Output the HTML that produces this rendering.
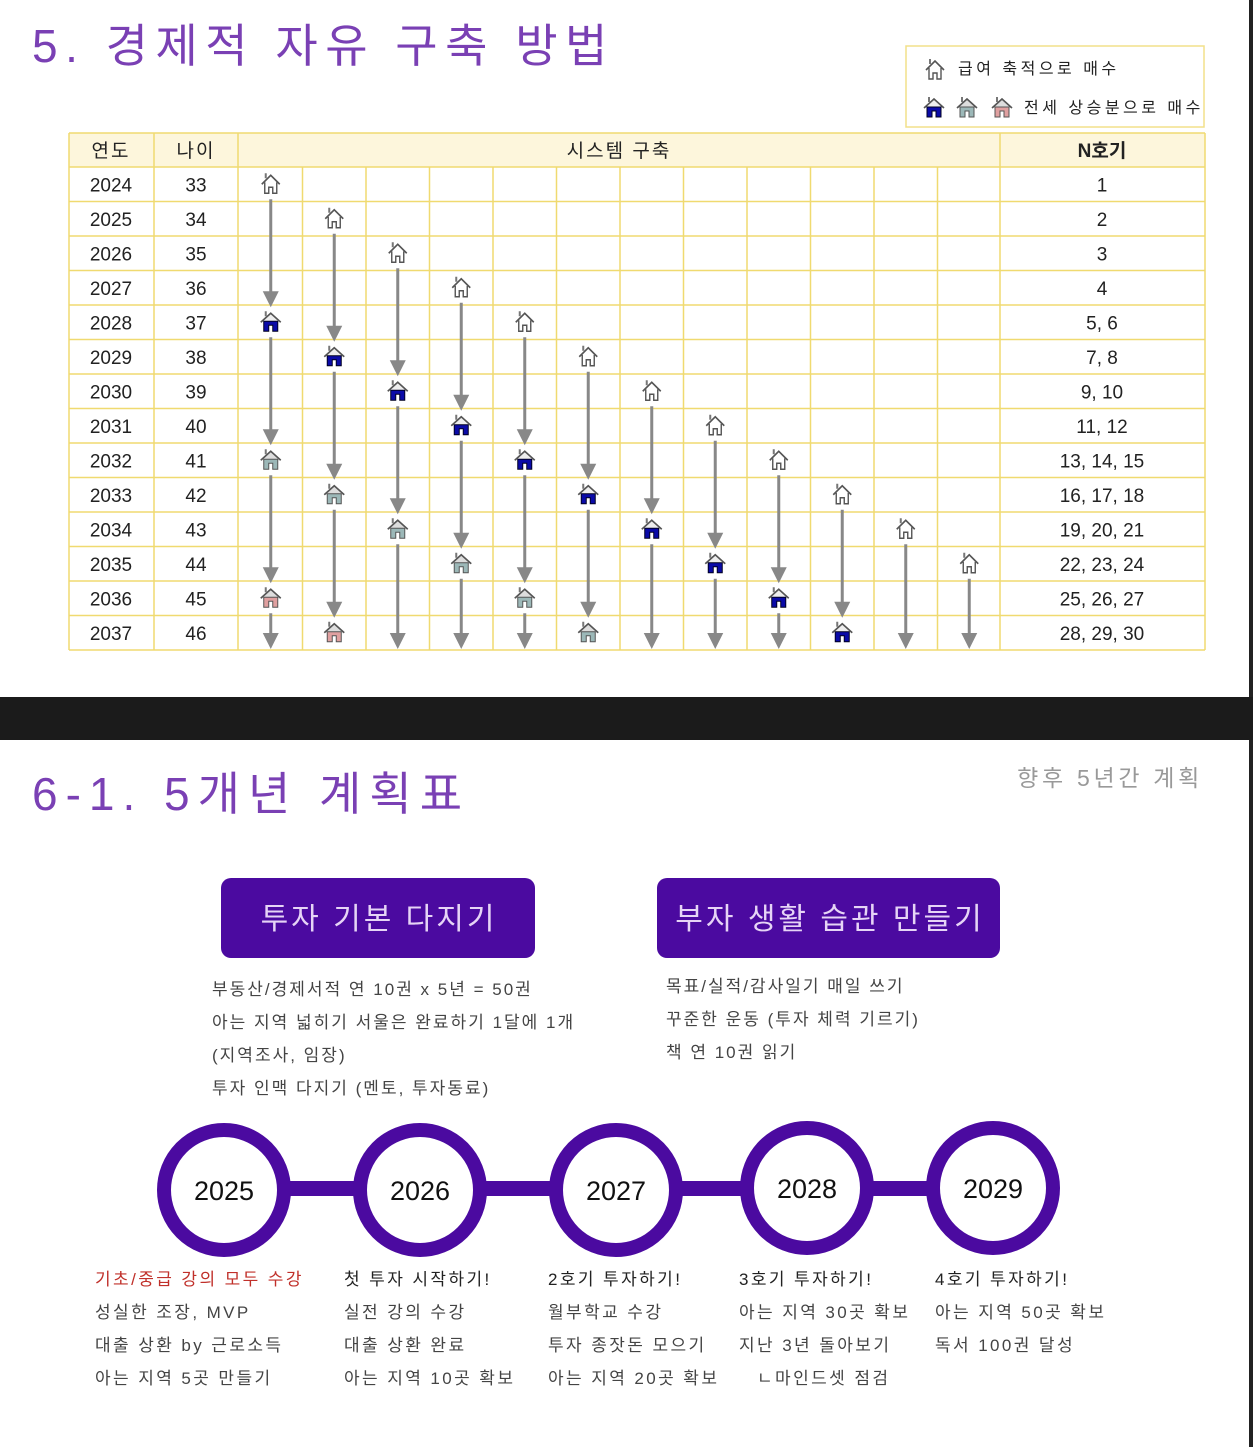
<!DOCTYPE html>
<html><head><meta charset="utf-8">
<style>
html,body{margin:0;padding:0;background:#fff;}
svg{display:block;}
text{font-family:"Liberation Sans","Noto Sans CJK KR",sans-serif;}
</style></head>
<body>
<svg id="s" width="1253" height="1447" viewBox="0 0 1253 1447" xmlns="http://www.w3.org/2000/svg">
<defs>
<g id="hw"><path d="M-9,0 L0,-9 L9,0" fill="none" stroke="#555" stroke-width="1.6"/><path d="M-6,-2 V9 H-2 V3 H2 V9 H6 V-2" fill="#fff" stroke="#555" stroke-width="1.4"/><rect x="-6" y="-11" width="2" height="5" fill="#777"/></g>
<g id="hb"><path d="M-10,0 L0,-9 L10,0" fill="#eee" stroke="#555" stroke-width="1.6"/><path d="M-7,-1 V9 H-2 V3 H2 V9 H7 V-1 Z" fill="#0a0aa8" stroke="#002" stroke-width="1"/><rect x="-6" y="-11" width="2" height="5" fill="#777"/></g>
<g id="ht"><path d="M-10,0 L0,-9 L10,0" fill="#ddd" stroke="#555" stroke-width="1.6"/><path d="M-7,-1 V9 H-2 V3 H2 V9 H7 V-1 Z" fill="#9cb8b8" stroke="#555" stroke-width="1"/><rect x="-6" y="-11" width="2" height="5" fill="#777"/></g>
<g id="hp"><path d="M-10,0 L0,-9 L10,0" fill="#ddd" stroke="#555" stroke-width="1.6"/><path d="M-7,-1 V9 H-2 V3 H2 V9 H7 V-1 Z" fill="#e0a0a0" stroke="#555" stroke-width="1"/><rect x="-6" y="-11" width="2" height="5" fill="#777"/></g>
</defs>
<rect x="0" y="0" width="1253" height="697" fill="#fff"/>
<rect x="1249" y="0" width="4" height="697" fill="#222"/>
<rect x="0" y="697" width="1253" height="43" fill="#1b1b1b"/>
<rect x="1249" y="740" width="4" height="707" fill="#222"/>
<text x="32" y="62" font-size="46" fill="#7a40b4" letter-spacing="7.5">5. 경제적 자유 구축 방법</text>
<rect x="906" y="46" width="298" height="81" fill="#fff" stroke="#f2e08a" stroke-width="1.5"/>
<use href="#hw" x="935" y="70"/>
<text x="958" y="74" font-size="16" fill="#222" letter-spacing="3.5">급여 축적으로 매수</text>
<use href="#hb" x="934" y="108"/><use href="#ht" x="967" y="108"/><use href="#hp" x="1002" y="108"/>
<text x="1024" y="113" font-size="16" fill="#222" letter-spacing="3.5">전세 상승분으로 매수</text>
<g id="tbl"></g>
<g font-size="19" fill="#222" text-anchor="middle">
<text x="111" y="157" letter-spacing="2">연도</text><text x="196" y="157" letter-spacing="2">나이</text><text x="619" y="157" letter-spacing="2">시스템 구축</text><text x="1102" y="157" font-weight="bold">N호기</text>
</g>
<g id="rows" font-size="19" fill="#222" text-anchor="middle"></g>
<text x="32" y="810" font-size="46" fill="#7a40b4" letter-spacing="8">6-1. 5개년 계획표</text>
<text x="1203" y="786" font-size="23" fill="#999" text-anchor="end" letter-spacing="3.7">향후 5년간 계획</text>
<rect x="221" y="878" width="314" height="80" rx="10" fill="#4b0aa0"/>
<text x="379" y="929" font-size="30" fill="#e6d4f6" text-anchor="middle" letter-spacing="3">투자 기본 다지기</text>
<rect x="657" y="878" width="343" height="80" rx="10" fill="#4b0aa0"/>
<text x="830" y="929" font-size="30" fill="#e6d4f6" text-anchor="middle" letter-spacing="3">부자 생활 습관 만들기</text>
<g font-size="17" fill="#444" letter-spacing="2">
<text x="212" y="995">부동산/경제서적 연 10권 x 5년 = 50권</text>
<text x="212" y="1028">아는 지역 넓히기 서울은 완료하기 1달에 1개</text>
<text x="212" y="1061">(지역조사, 임장)</text>
<text x="212" y="1094">투자 인맥 다지기 (멘토, 투자동료)</text>
<text x="666" y="992">목표/실적/감사일기 매일 쓰기</text>
<text x="666" y="1025">꾸준한 운동 (투자 체력 기르기)</text>
<text x="666" y="1058">책 연 10권 읽기</text>
</g>
<rect x="224" y="1181" width="769" height="15" fill="#4b0aa0"/>
<g fill="#fff" stroke="#4b0aa0" stroke-width="14">
<circle cx="224" cy="1190" r="60"/><circle cx="420" cy="1190" r="60"/><circle cx="616" cy="1190" r="60"/><circle cx="807" cy="1188" r="60"/><circle cx="993" cy="1188" r="60"/>
</g>
<g font-size="27" fill="#111" text-anchor="middle">
<text x="224" y="1200">2025</text><text x="420" y="1200">2026</text><text x="616" y="1200">2027</text><text x="807" y="1198">2028</text><text x="993" y="1198">2029</text>
</g>
<g font-size="17" fill="#444" letter-spacing="2.4">
<text x="95" y="1285" fill="#c0302a">기초/중급 강의 모두 수강</text>
<text x="95" y="1318">성실한 조장, MVP</text>
<text x="95" y="1351">대출 상환 by 근로소득</text>
<text x="95" y="1384">아는 지역 5곳 만들기</text>
<text x="344" y="1285" fill="#222">첫 투자 시작하기!</text>
<text x="344" y="1318">실전 강의 수강</text>
<text x="344" y="1351">대출 상환 완료</text>
<text x="344" y="1384">아는 지역 10곳 확보</text>
<text x="548" y="1285" fill="#222">2호기 투자하기!</text>
<text x="548" y="1318">월부학교 수강</text>
<text x="548" y="1351">투자 종잣돈 모으기</text>
<text x="548" y="1384">아는 지역 20곳 확보</text>
<text x="739" y="1285" fill="#222">3호기 투자하기!</text>
<text x="739" y="1318">아는 지역 30곳 확보</text>
<text x="739" y="1351">지난 3년 돌아보기</text>
<text x="757" y="1384">ㄴ마인드셋 점검</text>
<text x="935" y="1285" fill="#222">4호기 투자하기!</text>
<text x="935" y="1318">아는 지역 50곳 확보</text>
<text x="935" y="1351">독서 100권 달성</text>
</g>
</svg>
<script>
(function(){
var NS="http://www.w3.org/2000/svg";
var tbl=document.getElementById('tbl'), rows=document.getElementById('rows');
function el(p,n,a,t){var e=document.createElementNS(NS,n);for(var k in a)e.setAttribute(k,a[k]);if(t)e.textContent=t;p.appendChild(e);return e;}
var L=69,R=1205,T=133,H0=167,RH=34.5,B=H0+14*RH;
var cx0=239,cw=63.5;
el(tbl,'rect',{x:L,y:T,width:R-L,height:H0-T,fill:'#fdf6dc'});
var st={stroke:'#f0da70','stroke-width':1.5};
function ln(x1,y1,x2,y2){var a={x1:x1,y1:y1,x2:x2,y2:y2};for(var k in st)a[k]=st[k];el(tbl,'line',a);}
for(var i=0;i<=14;i++){var y=H0+i*RH;ln(L,y,R,y);}
ln(L,T,R,T);
[L,154,238,1000,R].forEach(function(x){ln(x,T,x,B);});
for(var c=1;c<12;c++){var x=cx0+c*cw;ln(x,H0,x,B);}
var ages=[33,34,35,36,37,38,39,40,41,42,43,44,45,46];
var ns=['1','2','3','4','5, 6','7, 8','9, 10','11, 12','13, 14, 15','16, 17, 18','19, 20, 21','22, 23, 24','25, 26, 27','28, 29, 30'];
var g=document.getElementById('s');
for(var r=0;r<14;r++){var y=H0+r*RH+RH/2+7;
el(rows,'text',{x:111,y:y},String(2024+r));el(rows,'text',{x:196,y:y},String(ages[r]));el(rows,'text',{x:1102,y:y},ns[r]);}
var kinds=['#hw','#hb','#ht','#hp'];
for(var c=0;c<12;c++){var x=cx0+c*cw+cw/2;
 var hr=[];for(var k=0;k<4;k++){var r=c+4*k;if(r<14)hr.push([r,kinds[k]]);}
 for(var j=0;j<hr.length;j++){var yc=H0+hr[j][0]*RH+RH/2;
  var y1=yc+15;var y2=(j+1<hr.length)?H0+hr[j+1][0]*RH+RH/2-15:B-1;
  if(y2-y1>8){el(g,'line',{x1:x,y1:y1,x2:x,y2:y2-12,stroke:'#888','stroke-width':3});
   el(g,'path',{d:'M'+(x-8)+','+(y2-16)+' L'+(x+8)+','+(y2-16)+' L'+x+','+y2+' Z',fill:'#888'});}
  el(g,'use',{href:hr[j][1],x:x,y:yc});}
}
})();
</script>
</body></html>
